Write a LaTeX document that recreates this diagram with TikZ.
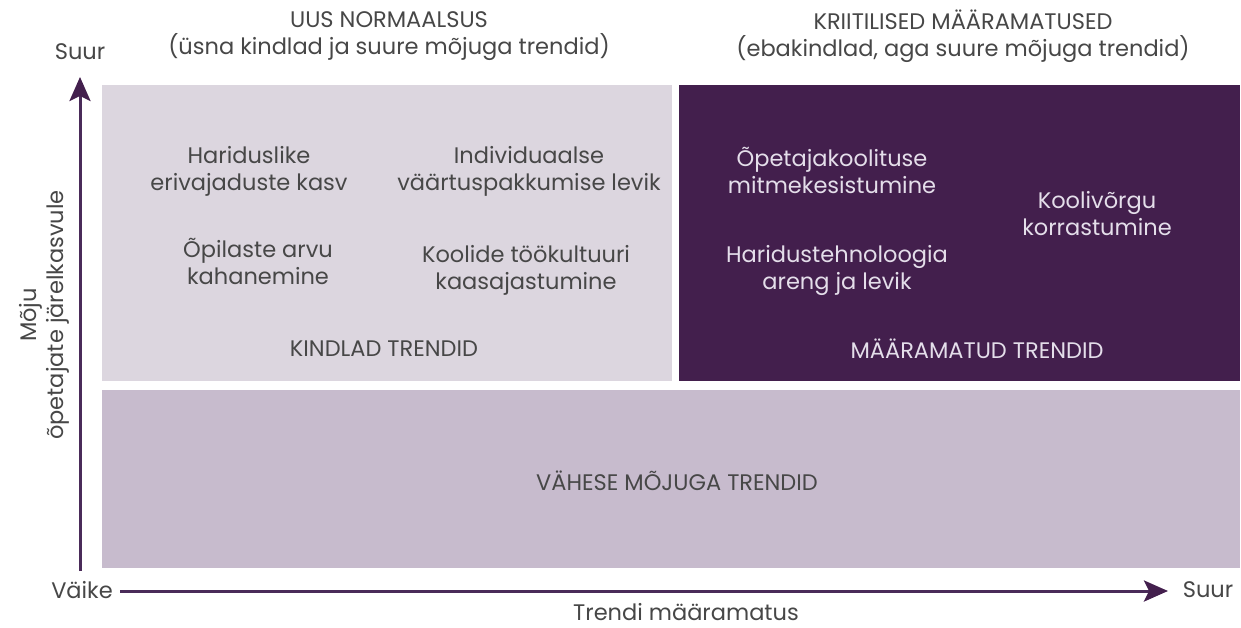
\documentclass[tikz,border=0pt]{standalone}
\usepackage{fontspec}
\setmainfont{Poppins}
\usetikzlibrary{arrows.meta}
\definecolor{lightbox}{HTML}{DCD6DF}
\definecolor{darkbox}{HTML}{431F4D}
\definecolor{lowbox}{HTML}{C7BBCD}
\definecolor{axiscol}{HTML}{4A2B59}
\definecolor{txtgrey}{HTML}{474747}
\definecolor{txtlight}{HTML}{E4DEEA}
\begin{document}
\begin{tikzpicture}[x=1pt,y=-1pt,
  lbl/.style={inner sep=0pt,align=center,text=txtgrey,font=\fontsize{22.5}{27}\selectfont},
  lbldark/.style={lbl,text=txtlight},
  axisline/.style={draw=axiscol,line width=3pt,-{Stealth[length=24pt,width=21pt,inset=5pt,fill=darkbox,color=darkbox]}}]
\useasboundingbox (0,0) rectangle (1241,627);
\fill[white] (0,0) rectangle (1241,627);
% boxes
\fill[lightbox] (102,85) rectangle (672,381);
\fill[darkbox] (679,85) rectangle (1240,381);
\fill[lowbox] (102,390) rectangle (1240,568);
% titles
\node[lbl] (tnorm) at (389,36) {UUS NORMAALSUS\\(üsna kindlad ja suure mõjuga trendid)};
\node[lbl] (tkrit) at (963,36) {KRIITILISED MÄÄRAMATUSED\\(ebakindlad, aga suure mõjuga trendid)};
% left box
\node[lbl] (n1) at (249,171) {Hariduslike\\erivajaduste kasv};
\node[lbl] (n2) at (529,171) {Individuaalse\\väärtuspakkumise levik};
\node[lbl] (n3) at (258,261) {Õpilaste arvu\\kahanemine};
\node[lbl] (n4) at (526,270) {Koolide töökultuuri\\kaasajastumine};
\node[lbl] (kind) at (384,349) {KINDLAD TRENDID};
% dark box
\node[lbldark] (n5) at (832,170) {Õpetajakoolituse\\mitmekesistumine};
\node[lbldark] (n6) at (1097,214) {Koolivõrgu\\korrastumine};
\node[lbldark] (n7) at (837,270) {Haridustehnoloogia\\areng ja levik};
\node[lbldark] (maar) at (977,349) {MÄÄRAMATUD TRENDID};
% bottom box
\node[lbl] (vah) at (677,481) {VÄHESE MÕJUGA TRENDID};
% axes labels
\node[lbl] (suurT) at (80,52) {Suur};
\node[lbl] (vaike) at (82,590) {Väike};
\node[lbl] (suurR) at (1208,590) {Suur};
\node[lbl] (xlab) at (686,612) {Trendi määramatus};
\node[lbl,rotate=90] (ylab) at (44,315) {Mõju\\õpetajate järelkasvule};
% axes
\coordinate (yfoot) at (80,571);
\coordinate (ytip) at (80,77);
\coordinate (xfoot) at (120,591);
\coordinate (xtip) at (1168,591);
\draw[axisline] (yfoot) -- (ytip);
\draw[axisline] (xfoot) -- (xtip);
\end{tikzpicture}
\end{document}
